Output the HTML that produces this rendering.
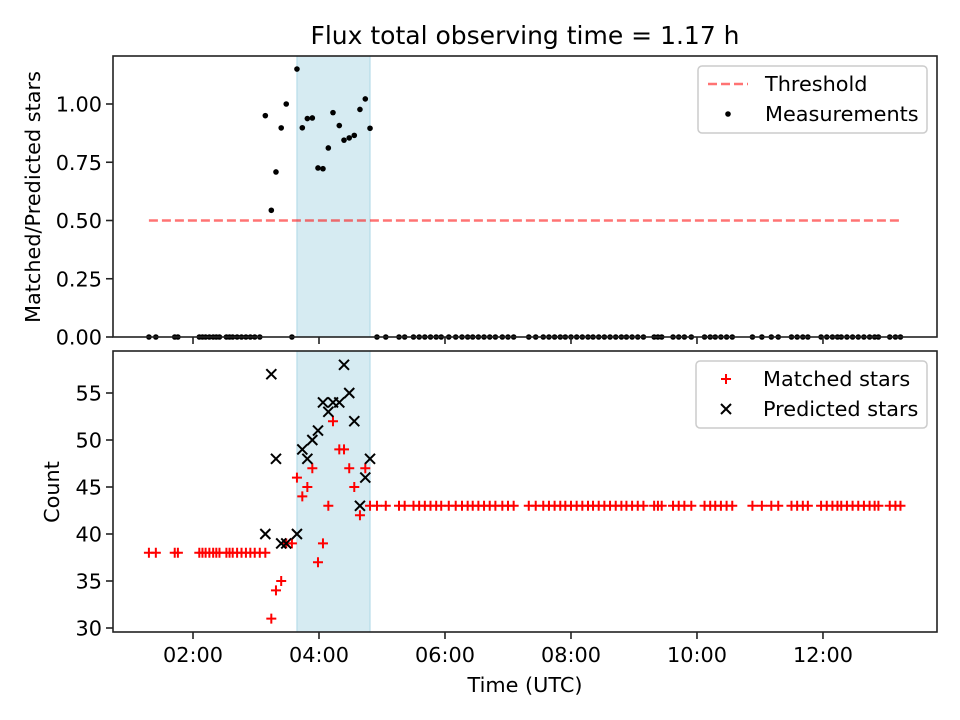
<!DOCTYPE html>
<html><head><meta charset="utf-8"><style>
body{margin:0;background:#fff;font-family:"Liberation Sans","DejaVu Sans",sans-serif}
svg text{font-family:"DejaVu Sans","Liberation Sans",sans-serif;font-size:20.8px;fill:#000}
</style></head><body>
<svg id="c" width="960" height="720" style="position:absolute;left:0;top:0"></svg>
<script>
const preTimes=[1.30,1.41,1.71,1.76,2.10,2.15,2.20,2.26,2.32,2.37,2.42,2.53,2.58,2.63,2.70,2.77,2.84,2.91,2.98,3.06,3.57];
const preMatched=[38,38,38,38,38,38,38,38,38,38,38,38,38,38,38,38,38,38,38,38,39];
const activeTimes=[3.148,3.243,3.317,3.40,3.48,3.65,3.735,3.815,3.894,3.984,4.063,4.148,4.222,4.322,4.397,4.48,4.56,4.65,4.735,4.81];
const activeMatched=[38,31,34,35,39,46,44,45,47,37,39,43,52,49,49,47,45,42,47,43];
const activePredicted=[40,57,48,39,39,40,49,48,50,51,54,53,54,54,58,55,52,43,46,48];
const postTimes=[4.92,5.06,5.27,5.36,5.50,5.59,5.68,5.77,5.86,5.94,6.06,6.17,6.27,6.36,6.44,6.53,6.62,6.71,6.80,6.91,7.00,7.09,7.33,7.44,7.56,7.65,7.74,7.83,7.91,8.00,8.09,8.18,8.27,8.35,8.44,8.53,8.62,8.71,8.80,8.88,8.97,9.06,9.15,9.32,9.38,9.44,9.62,9.71,9.80,9.91,10.12,10.21,10.29,10.38,10.47,10.56,10.88,11.03,11.18,11.29,11.50,11.59,11.68,11.76,11.97,12.06,12.15,12.23,12.29,12.38,12.47,12.56,12.65,12.74,12.82,12.88,13.06,13.15,13.23];
const postMatched=postTimes.map(()=>43);
const threshold=0.5;
const shadeRange=[3.65,4.81];
const xTickHours=[2,4,6,8,10,12];
const xTickLabels=["02:00","04:00","06:00","08:00","10:00","12:00"];
const topTicks=[0,0.25,0.5,0.75,1.0];
const topTickLabels=["0.00","0.25","0.50","0.75","1.00"];
const botTicks=[30,35,40,45,50,55];

const NS="http://www.w3.org/2000/svg";
const svg=document.getElementById('c');
function el(t,a,p){const e=document.createElementNS(NS,t);for(const k in a)e.setAttribute(k,a[k]);(p||svg).appendChild(e);return e;}
const L=113,R=937,T1=56,B1=337,T2=351,B2=632;
const xMin=0.73,xMax=13.81;
const X=h=>L+(h-xMin)/(xMax-xMin)*(R-L);
const Y1=v=>B1-v*233;
const Y2=v=>628-(v-30)*9.4;

let s=el('rect',{x:X(shadeRange[0]),y:T1,width:X(shadeRange[1])-X(shadeRange[0]),height:B1-T1,fill:'#add8e6','fill-opacity':0.5,stroke:'#add8e6'});


s=el('rect',{x:X(shadeRange[0]),y:T2,width:X(shadeRange[1])-X(shadeRange[0]),height:B2-T2,fill:'#add8e6','fill-opacity':0.5,stroke:'#add8e6'});



const allT=preTimes.concat(activeTimes,postTimes);
const tmin=Math.min(...allT),tmax=Math.max(...allT);
let th=el('line',{x1:X(tmin),x2:X(tmax),y1:Y1(threshold),y2:Y1(threshold),stroke:'#ff0000','stroke-opacity':0.55,'stroke-width':2.5,'stroke-dasharray':'9,4'});



function dot(h,r){const c=el('circle',{cx:X(h),cy:Y1(r),r:2.8,fill:'#000'});

}
preTimes.forEach(h=>dot(h,0));
postTimes.forEach(h=>dot(h,0));
activeTimes.forEach((h,i)=>dot(h,activeMatched[i]/activePredicted[i]));

function plus(h,v){const g=el('path',{d:`M${X(h)-5},${Y2(v)}h10M${X(h)},${Y2(v)-5}v10`,stroke:'#f00','stroke-width':2});

}
function cross(h,v){const x=X(h),y=Y2(v);const g=el('path',{d:`M${x-5},${y-5}l10,10M${x-5},${y+5}l10,-10`,stroke:'#000','stroke-width':2});

}
preTimes.forEach((h,i)=>plus(h,preMatched[i]));
postTimes.forEach((h,i)=>plus(h,postMatched[i]));
activeTimes.forEach((h,i)=>plus(h,activeMatched[i]));
activeTimes.forEach((h,i)=>cross(h,activePredicted[i]));

[[T1,B1,'top-axes'],[T2,B2,'bottom-axes']].forEach(([t,b,n])=>{const r=el('rect',{x:L,y:t,width:R-L,height:b-t,fill:'none',stroke:'#222','stroke-width':1.6});

});

xTickHours.forEach((h,i)=>{
 el('line',{x1:X(h),x2:X(h),y1:B1,y2:B1+7,stroke:'#222','stroke-width':1.6});
 el('line',{x1:X(h),x2:X(h),y1:B2,y2:B2+7,stroke:'#222','stroke-width':1.6});
 const t=el('text',{x:X(h),y:B2+30,'text-anchor':'middle'});t.textContent=xTickLabels[i];
 
 
});
topTicks.forEach((v,i)=>{el('line',{x1:L-7,x2:L,y1:Y1(v),y2:Y1(v),stroke:'#222','stroke-width':1.6});
 const t=el('text',{x:L-11,y:Y1(v)+7.5,'text-anchor':'end'});t.textContent=topTickLabels[i];
 
 });
botTicks.forEach(v=>{el('line',{x1:L-7,x2:L,y1:Y2(v),y2:Y2(v),stroke:'#222','stroke-width':1.6});
 const t=el('text',{x:L-11,y:Y2(v)+7.5,'text-anchor':'end'});t.textContent=v;
 
 });
</script>
<svg width="960" height="720" style="position:absolute;left:0;top:0">
<text x="525" y="44" text-anchor="middle" style="font-size:25px">Flux total observing time = 1.17 h</text>
<text x="525" y="692" text-anchor="middle">Time (UTC)</text>
<text transform="translate(40,197) rotate(-90)" text-anchor="middle">Matched/Predicted stars</text>
<text transform="translate(59,492) rotate(-90)" text-anchor="middle">Count</text>
<g>
<rect x="698" y="66" width="229" height="67" rx="4" fill="#fff" fill-opacity="0.8" stroke="#ccc" stroke-width="1.5"/>
<line x1="708" x2="748" y1="84" y2="84" stroke="#f00" stroke-opacity="0.55" stroke-width="2.5" stroke-dasharray="9,4"/>
<text x="765" y="91">Threshold</text>
<circle cx="728" cy="114" r="2.8" fill="#000"/>
<text x="765" y="121">Measurements</text>
</g>
<g>
<rect x="696" y="361" width="231" height="67" rx="4" fill="#fff" fill-opacity="0.8" stroke="#ccc" stroke-width="1.5"/>
<path d="M721,379h10M726,374v10" stroke="#f00" stroke-width="2"/>
<text x="763" y="386">Matched stars</text>
<path d="M721,404l10,10M721,414l10,-10" stroke="#000" stroke-width="2"/>
<text x="763" y="416">Predicted stars</text>
</g>
</svg>
</body></html>
